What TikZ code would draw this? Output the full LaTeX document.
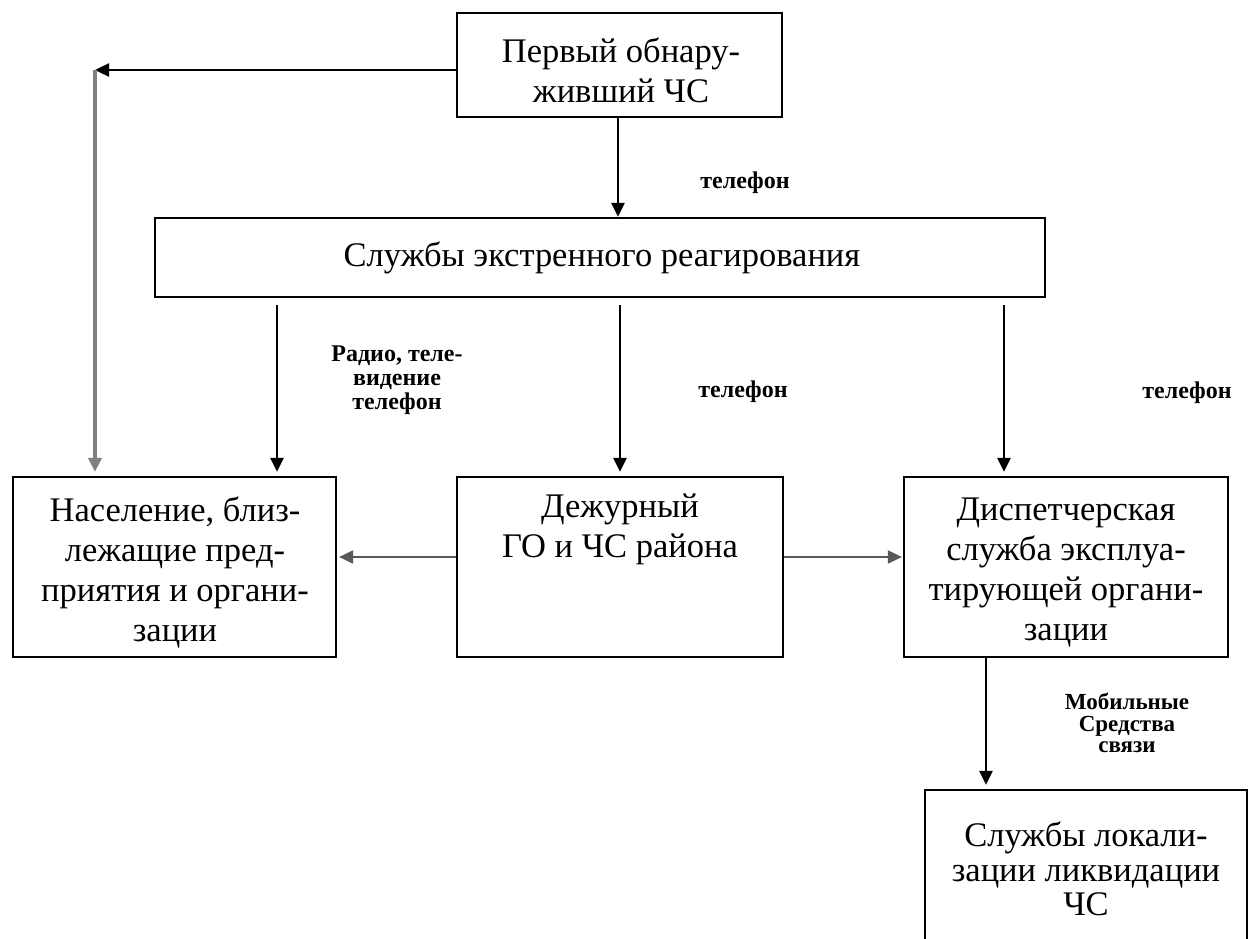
\documentclass[tikz,border=0pt]{standalone}
\usepackage{fontspec}
\setmainfont{Liberation Serif}
\usetikzlibrary{arrows.meta}
\begin{document}
\begin{tikzpicture}[x=1pt,y=-1pt,
  box/.style={draw=black, line width=2.2pt, rectangle, inner sep=0pt},
  boxtext/.style={align=center, inner sep=0pt, font=\fontsize{34.5}{40}\selectfont},
  lbl/.style={align=center, inner sep=0pt, font=\fontsize{24}{24}\selectfont\bfseries},
  tip/.style={-{Triangle[length=14pt,width=13pt]}},
  arr/.style={tip, line width=2.6pt, draw=black},
  garr/.style={tip, line width=3.5pt, draw=black!50},
  harr/.style={tip, line width=2pt, draw=black!65}
]
\useasboundingbox (0,0) rectangle (1254,939);
\fill[white] (0,0) rectangle (1254,939);

% boxes
\node[box, minimum width=325pt, minimum height=104pt] (b1) at (619.5,65) {};
\node[box, minimum width=890pt, minimum height=79pt] (b2) at (600,257.5) {};
\node[box, minimum width=323pt, minimum height=180pt] (b3) at (174.5,567) {};
\node[box, minimum width=326pt, minimum height=180pt] (b4) at (620,567) {};
\node[box, minimum width=324pt, minimum height=180pt] (b5) at (1066,567) {};
\node[box, minimum width=322pt, minimum height=170pt] (b6) at (1086,875) {};

% box texts
\node[boxtext] (t1) at (621,70) {Первый обнару-\\живший ЧС};
\node[boxtext] (t2) at (602,258) {Службы экстренного реагирования};
\node[boxtext] (t3) at (175,572) {Население, близ-\\лежащие пред-\\приятия и органи-\\зации};
\node[boxtext] (t4) at (620,529) {Дежурный\\ГО и ЧС района};
\node[boxtext] (t5) at (1066,573) {Диспетчерская\\служба эксплуа-\\тирующей органи-\\зации};
\node[boxtext, font=\fontsize{34.5}{34.5}\selectfont] (t6) at (1086,869) {Службы локали-\\зации ликвидации\\ЧС};

% labels
\node[lbl] (l1) at (745,183) {телефон};
\node[lbl] (l2) at (397,380) {Радио, теле-\\видение\\телефон};
\node[lbl] (l3) at (743,392) {телефон};
\node[lbl] (l4) at (1187,393) {телефон};
\node[lbl, font=\fontsize{23}{21.5}\selectfont\bfseries] (l5) at (1127,723) {Мобильные\\Средства\\связи};

% free ends
\coordinate (corner) at (95,70);
\coordinate (s3) at (277,305);
\coordinate (s4) at (620,305);
\coordinate (s5) at (1004,305);

% connectors
\draw[arr] (b1.south -| 618,0) -- (b2.north -| 618,0);
\draw[tip, line width=2.4pt, draw=black] (b1.west |- corner) -- (corner);
\draw[garr, shorten >=4pt] (corner) -- (b3.north -| corner);
\draw[arr, shorten >=4pt] (s3) -- (b3.north -| s3);
\draw[arr, shorten >=4pt] (s4) -- (b4.north -| s4);
\draw[arr, shorten >=4pt] (s5) -- (b5.north -| s5);
\draw[harr, shorten >=2pt] (b4.west |- 0,557) -- (b3.east |- 0,557);
\draw[harr, shorten >=1pt] (b4.east |- 0,557) -- (b5.west |- 0,557);
\draw[arr, shorten >=4pt] (b5.south -| 986,0) -- (b6.north -| 986,0);
\end{tikzpicture}
\end{document}
